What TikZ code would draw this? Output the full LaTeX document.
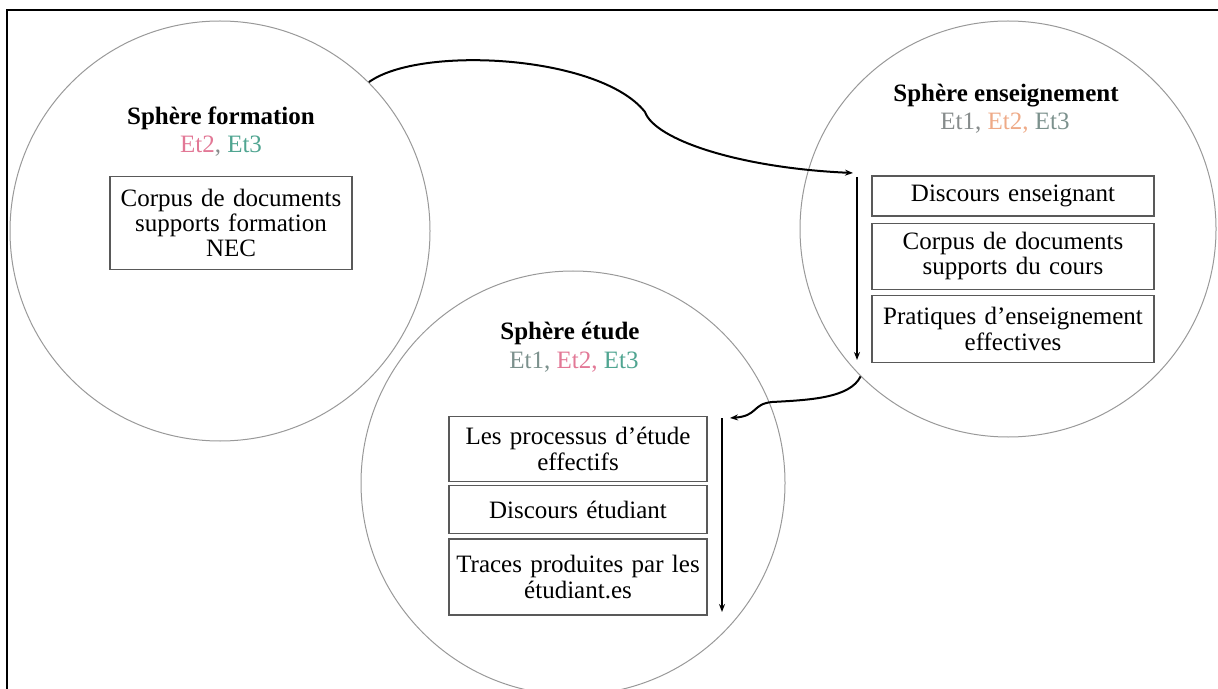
\documentclass[tikz,border=0pt]{standalone}
\usepackage{fontspec}
\setmainfont{Liberation Serif}
\usepackage{xcolor}
\usetikzlibrary{arrows.meta,positioning}

\definecolor{etrose}{RGB}{226,120,150}
\definecolor{etvert}{RGB}{80,165,145}
\definecolor{etgris}{RGB}{135,140,140}
\definecolor{etorange}{RGB}{238,170,135}

\begin{document}
\begin{tikzpicture}[x=0.5pt,y=-0.5pt,
  sphere/.style={circle, draw=gray!80, line width=0.5pt, inner sep=0pt},
  titre/.style={font=\fontsize{12.5}{13}\selectfont\bfseries, inner sep=0pt},
  etapes/.style={font=\fontsize{12.5}{13}\selectfont, inner sep=0pt},
  bloc/.style={draw=black!65, line width=0.6pt, align=center, inner sep=1pt,
    font=\fontsize{12.5}{12.6}\selectfont},
  fleche/.style={line width=0.8pt, -{Stealth[length=4pt,width=3pt]}}]
  \useasboundingbox (0,0) rectangle (1218,689);
  \draw[line width=1.3pt] (7,689) -- (7,10) -- (1218,10);

  % Sphere formation
  \node[sphere, minimum size=210pt] (formation) at (220,231) {};
  \node[titre] (titreF) at (221,118) {Sphère formation};
  \node[etapes] (etF) at (221,146) {\textcolor{etrose}{Et2}\textcolor{etgris}{, }\textcolor{etvert}{Et3}};
  \node[bloc, text width=119pt, minimum height=46.5pt] (corpusF) at (231,223)
    {Corpus de documents\\ supports formation\\ NEC};

  % Sphere enseignement
  \node[sphere, minimum size=208pt] (enseignement) at (1008,229) {};
  \node[titre] (titreE) at (1006,96) {Sphère enseignement};
  \node[etapes] (etE) at (1005,123) {\textcolor{etgris}{Et1, }\textcolor{etorange}{Et2, }\textcolor{etgris!80!etvert}{Et3}};
  \node[bloc, text width=139pt, minimum height=20pt] (discoursE) at (1013,196) {Discours enseignant};
  \node[bloc, text width=139pt, minimum height=33pt, below=3pt of discoursE] (corpusE)
    {Corpus de documents\\ supports du cours};
  \node[bloc, text width=139pt, minimum height=33.5pt, below=2.5pt of corpusE] (pratiquesE)
    {Pratiques d’enseignement\\ effectives};

  % Sphere etude
  \node[sphere, minimum size=212pt] (etude) at (573,483) {};
  \node[titre] (titreU) at (570,333) {Sphère étude};
  \node[etapes] (etU) at (574,362) {\textcolor{etgris!80!etvert}{Et1, }\textcolor{etrose}{Et2, }\textcolor{etvert}{Et3}};
  \node[bloc, text width=127pt, minimum height=32.5pt] (processusU) at (578,449)
    {Les processus d’étude\\ effectifs};
  \node[bloc, text width=127pt, minimum height=24pt, below=1.5pt of processusU] (discoursU)
    {Discours étudiant};
  \node[bloc, text width=127pt, minimum height=38pt, below=2pt of discoursU] (tracesU)
    {Traces produites par les\\ étudiant.es};

  \coordinate (ensEntree) at (853,173);
  \coordinate (ensHaut) at (857,177);
  \coordinate (ensBas) at (857,360);
  \coordinate (etuEntree) at (730,418);
  \coordinate (etuHaut) at (722,418);
  \coordinate (etuBas) at (722,612);

  % Liens entre les spheres
  \draw[fleche, line width=1pt] (formation.45) .. controls (420,45) and (600,55) .. (645,112)
    .. controls (655,140) and (740,168) .. (ensEntree);
  \draw[fleche] (ensHaut) -- (ensBas);
  \draw[fleche, line width=1pt] (enseignement.225) .. controls (850,398) and (810,400) .. (772,402)
    .. controls (752,404) and (758,416) .. (etuEntree);
  \draw[fleche] (etuHaut) -- (etuBas);
\end{tikzpicture}
\end{document}
